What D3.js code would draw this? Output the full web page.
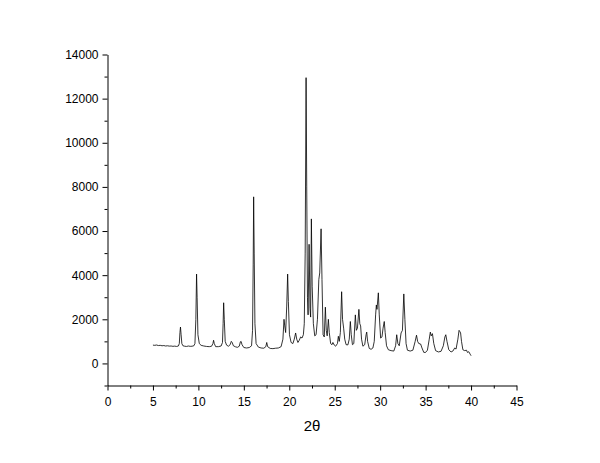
<!DOCTYPE html>
<html>
<head>
<meta charset="utf-8">
<script src="https://cdn.jsdelivr.net/npm/d3@7"></script>
<style>
  html, body { margin: 0; padding: 0; background: #fff; }
  svg { display: block; }
</style>
</head>
<body>
<svg id="chart" width="600" height="463"></svg>
<script>
// 2θ values (degrees)
const twoTheta = [
  5.00,5.20,5.40,5.60,5.80,6.00,6.20,6.40,6.60,6.80,7.00,7.20,7.40,7.60,7.80,7.90,7.97,8.03,8.10,8.18,
  8.30,8.50,8.70,8.90,9.10,9.30,9.50,9.62,9.72,9.80,9.86,9.95,10.10,10.30,10.60,10.90,11.20,11.45,11.60,11.67,
  11.75,11.90,12.20,12.50,12.65,12.72,12.78,12.85,12.95,13.10,13.30,13.50,13.62,13.72,13.85,14.10,14.30,14.50,14.62,14.70,
  14.80,15.00,15.30,15.60,15.85,15.96,16.03,16.08,16.14,16.22,16.35,16.60,16.90,17.20,17.42,17.52,17.62,17.90,18.20,18.50,
  18.80,19.10,19.30,19.42,19.50,19.60,19.72,19.82,19.90,20.02,20.20,20.40,20.55,20.70,20.82,20.95,21.10,21.25,21.40,21.55,
  21.65,21.75,21.85,21.92,22.00,22.07,22.18,22.28,22.35,22.43,22.52,22.65,22.80,22.95,23.10,23.25,23.35,23.50,23.60,23.72,
  23.85,23.97,24.07,24.17,24.30,24.40,24.55,24.70,24.80,24.95,25.10,25.30,25.40,25.50,25.62,25.76,25.86,25.98,26.10,26.25,
  26.45,26.60,26.72,26.82,26.95,27.10,27.27,27.38,27.50,27.66,27.76,27.85,27.95,28.10,28.30,28.45,28.52,28.62,28.80,29.00,
  29.20,29.35,29.50,29.58,29.65,29.80,29.90,30.05,30.20,30.32,30.45,30.55,30.70,30.90,31.20,31.50,31.70,31.82,31.95,32.10,
  32.30,32.45,32.60,32.72,32.85,33.00,33.30,33.60,33.85,34.00,34.12,34.25,34.45,34.60,34.80,35.00,35.20,35.40,35.52,35.62,
  35.75,35.90,36.10,36.40,36.70,36.95,37.12,37.22,37.35,37.55,37.80,38.00,38.20,38.35,38.55,38.68,38.76,38.85,38.95,39.10,
  39.30,39.50,39.60,39.75,39.90,40.00
];
// Intensity (counts)
const intensity = [
  830,820,835,810,820,800,810,790,800,785,790,775,785,770,790,900,1400,1650,1300,900,
  800,780,770,790,775,780,800,900,2000,4050,3000,1300,900,820,790,770,760,780,900,1050,
  900,760,760,790,950,1800,2750,2000,1000,830,780,850,1000,950,800,750,730,780,980,1000,
  850,720,700,720,800,1500,4500,7550,5000,1800,900,740,700,690,760,950,760,680,670,690,
  700,760,1100,2000,1700,1400,2600,4050,2800,1300,950,900,1100,1380,1100,950,1050,1200,1150,1300,
  1800,5000,12950,8000,3000,2200,5400,2500,2100,6550,3500,1800,1250,1300,2000,3800,4100,6100,3800,1300,
  1200,2550,1500,1250,2000,1400,900,850,950,830,780,900,1230,1000,1400,3250,2000,1600,1100,850,
  840,1100,1900,1300,850,900,2200,1500,1600,2450,1800,1700,1100,780,850,1300,1420,1000,680,640,
  700,1000,2200,2650,2450,3200,2200,1150,1200,1600,1900,1400,800,620,580,560,800,1300,900,800,
  1380,1500,3150,2000,900,600,560,600,1000,1280,1000,900,880,700,500,500,600,1100,1420,1250,
  1350,900,580,520,550,800,1200,1300,1000,620,520,560,700,650,1100,1500,1450,1380,1000,620,
  580,600,500,530,420,350
];
const xTicks = [0,5,10,15,20,25,30,35,40,45];
const xMinorTicks = [2.5,7.5,12.5,17.5,22.5,27.5,32.5,37.5,42.5];
const yTicks = [0,2000,4000,6000,8000,10000,12000,14000];
const yMinorTicks = [-1000,1000,3000,5000,7000,9000,11000,13000];
const xTitle = "2θ";

const svg = d3.select("#chart");
const x = d3.scaleLinear().domain([0,45]).range([107.5,516.5]);
const y = d3.scaleLinear().domain([-1000,14000]).range([385.5,54.5]);

const font = "'Liberation Sans', Arial, sans-serif";

// data line
const data = twoTheta.map((t,i)=>[t, intensity[i]]);
svg.append("path")
  .datum(data)
  .attr("fill","none")
  .attr("stroke","#000")
  .attr("stroke-width",0.8)
  .attr("stroke-linejoin","round")
  .attr("d", d3.line().x(d=>x(d[0])).y(d=>y(d[1])));

// x axis
const gx = svg.append("g").attr("transform","translate(0,385.5)");
gx.call(d3.axisBottom(x).tickValues(xTicks).tickSize(5).tickPadding(7).tickSizeOuter(0).tickFormat(d3.format("d")));
gx.append("g").call(d3.axisBottom(x).tickValues(xMinorTicks).tickSize(3).tickFormat("")).select(".domain").remove();

// y axis
const gy = svg.append("g").attr("transform","translate(107.5,0)");
gy.call(d3.axisLeft(y).tickValues(yTicks).tickSize(5).tickPadding(4).tickSizeOuter(0).tickFormat(d3.format("d")));
gy.append("g").call(d3.axisLeft(y).tickValues(yMinorTicks).tickSize(3).tickFormat("")).select(".domain").remove();

svg.selectAll(".tick text").attr("font-family",font).attr("font-size",12).attr("fill","#000");
svg.selectAll(".domain, .tick line").attr("stroke","#000").attr("stroke-width",1);

svg.append("text")
  .attr("x",312).attr("y",431)
  .attr("text-anchor","middle")
  .attr("font-family",font)
  .attr("font-size",15)
  .attr("fill","#000")
  .text(xTitle);
</script>
</body>
</html>
